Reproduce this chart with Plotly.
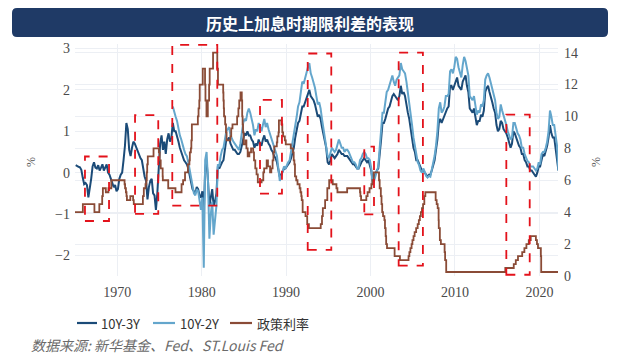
import plotly.graph_objects as go

# ---------------- data ----------------
# 10Y-3Y spread, six readings per year (bi-monthly), starting Jan 1965
SPREAD_10Y3Y = [
    0.18, 0.15, 0.14, 0.13, 0.07, -0.12,   # 1965
    -0.28, -0.25, -0.30, -0.60, -0.40, -0.15,  # 1966
    0.15, 0.25, 0.12, 0.10, 0.18, 0.05,    # 1967
    0.12, 0.20, 0.05, 0.15, 0.20, 0.00,    # 1968
    -0.05, -0.15, -0.25, -0.35, -0.30, -0.45,  # 1969
    -0.40, -0.15, -0.05, 0.00, 0.30, 0.65,  # 1970
    1.20, 1.05, 0.55, 0.40, 0.60, 0.75,    # 1971
    0.70, 0.60, 0.50, 0.45, 0.35, 0.30,    # 1972
    0.05, -0.10, -0.20, -0.65, -0.35, -0.20,  # 1973
    -0.15, -0.50, -0.55, -0.90, -0.50, 0.10,  # 1974
    0.70, 0.90, 0.55, 0.75, 0.45, 0.80,    # 1975
    0.95, 0.75, 0.85, 1.20, 1.00, 1.00,    # 1976
    0.90, 0.75, 0.60, 0.50, 0.35, 0.30,    # 1977
    0.25, 0.20, 0.10, -0.05, -0.20, -0.40,  # 1978
    -0.45, -0.50, -0.35, -0.40, -0.55, -0.60,  # 1979
    -0.45, -1.00, 0.10, 0.30, -0.20, -0.80,  # 1980
    -0.60, -0.40, -0.80, -0.70, -0.50, 0.15,  # 1981
    0.10, 0.20, 0.25, 0.30, 0.60, 0.80,    # 1982
    0.80, 0.85, 0.70, 0.60, 0.55, 0.55,    # 1983
    0.50, 0.45, 0.45, 0.50, 0.65, 0.85,    # 1984
    0.95, 0.90, 1.00, 0.90, 0.90, 0.80,    # 1985
    0.75, 0.60, 0.70, 0.65, 0.80, 0.70,    # 1986
    0.65, 0.80, 0.90, 0.75, 0.80, 0.70,    # 1987
    0.65, 0.55, 0.50, 0.40, 0.35, 0.25,    # 1988
    0.05, -0.10, -0.05, 0.05, 0.10, 0.10,  # 1989
    0.15, 0.20, 0.25, 0.35, 0.50, 0.60,    # 1990
    0.85, 1.00, 1.20, 1.25, 1.45, 1.60,    # 1991
    1.60, 1.70, 1.85, 1.95, 2.00, 1.85,    # 1992
    1.80, 1.75, 1.65, 1.50, 1.35, 1.40,    # 1993
    1.30, 1.10, 0.90, 0.75, 0.60, 0.25,    # 1994
    0.20, 0.30, 0.45, 0.40, 0.35, 0.40,    # 1995
    0.45, 0.55, 0.50, 0.45, 0.45, 0.40,    # 1996
    0.40, 0.40, 0.35, 0.30, 0.25, 0.20,    # 1997
    0.20, 0.15, 0.10, 0.10, 0.20, 0.25,    # 1998
    0.30, 0.35, 0.30, 0.25, 0.30, 0.20,    # 1999
    0.05, -0.20, -0.10, -0.05, 0.05, 0.10,  # 2000
    0.40, 0.80, 1.20, 1.20, 1.30, 1.45,    # 2001
    1.55, 1.60, 1.75, 1.85, 1.90, 1.85,    # 2002
    1.80, 1.75, 1.85, 2.10, 1.90, 1.95,    # 2003
    1.85, 1.60, 1.45, 1.30, 1.05, 0.85,    # 2004
    0.60, 0.50, 0.30, 0.30, 0.20, 0.10,    # 2005
    0.05, 0.05, 0.00, -0.05, -0.10, -0.05,  # 2006
    -0.05, 0.05, 0.15, 0.30, 0.55, 0.80,   # 2007
    1.20, 1.30, 1.20, 1.30, 1.35, 1.50,    # 2008
    1.55, 1.60, 2.10, 2.10, 2.00, 2.10,    # 2009
    2.20, 2.30, 2.10, 2.05, 2.00, 2.20,    # 2010
    2.30, 2.35, 2.10, 1.95, 1.55, 1.50,    # 2011
    1.45, 1.55, 1.30, 1.15, 1.25, 1.25,    # 2012
    1.40, 1.35, 1.50, 1.95, 2.05, 2.10,    # 2013
    1.95, 1.85, 1.70, 1.55, 1.45, 1.15,    # 2014
    1.00, 1.05, 1.25, 1.20, 1.05, 1.00,    # 2015
    0.95, 0.85, 0.75, 0.60, 0.70, 1.00,    # 2016
    0.95, 0.85, 0.70, 0.65, 0.60, 0.45,    # 2017
    0.45, 0.30, 0.25, 0.15, 0.15, 0.05,    # 2018
    0.05, 0.00, -0.05, -0.10, 0.00, 0.15,  # 2019
    0.15, 0.35, 0.45, 0.40, 0.50, 0.65,    # 2020
    0.85, 1.15, 0.95, 0.85, 0.85, 0.55,    # 2021
    0.35, 0.05,                            # 2022
]
SPREAD_10Y3Y_START = (1965, 0)   # (year, bi-monthly slot)

# 10Y-2Y spread, six readings per year, starting mid 1976
SPREAD_10Y2Y = [
    1.60, 1.45, 1.35,                      # 1976 (H2)
    1.25, 1.05, 0.90, 0.80, 0.65, 0.55,    # 1977
    0.45, 0.40, 0.25, 0.05, -0.15, -0.35,  # 1978
    -0.50, -0.55, -0.40, -0.45, -0.75, -0.90,  # 1979
    -0.60, -2.30, 0.30, 0.50, -0.20, -1.60,  # 1980
    -1.00, -0.70, -1.50, -1.20, -0.80, 0.20,  # 1981
    0.15, 0.40, 0.55, 0.60, 0.80, 1.00,    # 1982
    1.05, 1.10, 0.90, 0.80, 0.75, 0.70,    # 1983
    0.65, 0.60, 0.55, 0.70, 0.95, 1.20,    # 1984
    1.30, 1.25, 1.45, 1.55, 1.45, 1.30,    # 1985
    1.15, 0.90, 1.05, 1.00, 1.20, 1.10,    # 1986
    1.00, 1.15, 1.30, 1.10, 1.20, 1.05,    # 1987
    0.95, 0.80, 0.75, 0.60, 0.50, 0.40,    # 1988
    0.10, -0.20, -0.10, 0.05, 0.15, 0.10,  # 1989
    0.20, 0.25, 0.30, 0.50, 0.70, 0.85,    # 1990
    1.15, 1.35, 1.60, 1.70, 1.95, 2.20,    # 1991
    2.15, 2.30, 2.45, 2.55, 2.65, 2.40,    # 1992
    2.30, 2.20, 2.05, 1.85, 1.65, 1.70,    # 1993
    1.55, 1.30, 1.10, 0.90, 0.70, 0.40,    # 1994
    0.35, 0.45, 0.60, 0.55, 0.50, 0.55,    # 1995
    0.65, 0.80, 0.70, 0.60, 0.60, 0.50,    # 1996
    0.55, 0.55, 0.50, 0.40, 0.35, 0.25,    # 1997
    0.25, 0.20, 0.10, 0.10, 0.30, 0.35,    # 1998
    0.45, 0.50, 0.45, 0.35, 0.35, 0.30,    # 1999
    0.10, -0.30, -0.20, -0.10, 0.05, 0.15,  # 2000
    0.60, 1.10, 1.45, 1.45, 1.75, 1.95,    # 2001
    2.00, 2.10, 2.25, 2.35, 2.20, 2.10,    # 2002
    2.25, 2.30, 2.35, 2.65, 2.50, 2.45,    # 2003
    2.40, 2.20, 1.95, 1.75, 1.45, 1.15,    # 2004
    0.85, 0.65, 0.35, 0.25, 0.18, 0.05,    # 2005
    0.00, 0.10, 0.02, -0.08, -0.12, -0.08,  # 2006
    -0.10, 0.05, 0.20, 0.40, 0.65, 1.00,   # 2007
    1.55, 1.70, 1.45, 1.50, 1.60, 1.85,    # 2008
    1.85, 1.90, 2.45, 2.50, 2.40, 2.55,    # 2009
    2.80, 2.75, 2.55, 2.45, 2.30, 2.60,    # 2010
    2.80, 2.70, 2.55, 2.35, 1.85, 1.80,    # 2011
    1.75, 1.85, 1.55, 1.40, 1.50, 1.45,    # 2012
    1.65, 1.60, 1.75, 2.25, 2.35, 2.40,    # 2013
    2.30, 2.15, 2.00, 1.85, 1.75, 1.45,    # 2014
    1.30, 1.35, 1.65, 1.50, 1.40, 1.25,    # 2015
    1.15, 1.00, 0.90, 0.80, 0.85, 1.20,    # 2016
    1.20, 1.05, 0.95, 0.90, 0.80, 0.60,    # 2017
    0.60, 0.45, 0.35, 0.28, 0.25, 0.15,    # 2018
    0.15, 0.15, 0.10, 0.05, 0.10, 0.25,    # 2019
    0.20, 0.45, 0.50, 0.50, 0.60, 0.75,    # 2020
    1.00, 1.50, 1.35, 1.15, 1.15, 0.85,    # 2021
    0.65, 0.05,                            # 2022
]
SPREAD_10Y2Y_START = (1976, 3)

# Policy rate (step changes): effective-from date (decimal year) and level, %
RATE_DATES = [
    1965.00, 1965.93, 1967.30, 1967.88, 1968.22, 1968.30, 1968.65, 1968.96, 1969.30,
    1970.87, 1970.93, 1971.03, 1971.10, 1971.15, 1971.55, 1971.88, 1971.96,
    1973.04, 1973.15, 1973.35, 1973.45, 1973.50, 1973.55, 1973.62, 1974.30,
    1974.93, 1975.03, 1975.15, 1975.38, 1975.40, 1976.04, 1976.90,
    1977.62, 1977.80, 1978.03, 1978.37, 1978.55, 1978.60, 1978.72, 1978.78, 1978.84,
    1979.55, 1979.63, 1979.72, 1979.77, 1980.13, 1980.40, 1980.45, 1980.57,
    1980.73, 1980.88, 1980.95, 1981.35, 1981.85, 1981.93,
    1982.55, 1982.58, 1982.62, 1982.65, 1982.78, 1982.88, 1982.95,
    1983.40, 1983.50, 1983.65, 1984.20, 1984.35, 1984.45, 1984.60,
    1984.75, 1984.80, 1984.85, 1984.90, 1984.97, 1985.20, 1985.30, 1985.45,
    1985.65, 1985.85, 1986.10, 1986.20, 1986.35, 1986.50, 1986.65,
    1987.10, 1987.30, 1987.40, 1987.70, 1987.85, 1988.10, 1988.25, 1988.40,
    1988.50, 1988.60, 1988.90, 1988.96, 1989.10, 1989.15, 1989.45, 1989.55,
    1989.65, 1989.85, 1989.96, 1990.55, 1990.80, 1990.90, 1990.98,
    1991.05, 1991.20, 1991.35, 1991.60, 1991.70, 1991.80, 1991.85, 1991.96,
    1992.30, 1992.50, 1992.70, 1994.10, 1994.25, 1994.35, 1994.62, 1994.88,
    1995.10, 1995.52, 1995.96, 1996.08, 1997.23, 1998.75, 1998.80, 1998.88,
    1999.50, 1999.65, 1999.88, 2000.10, 2000.22, 2000.38,
    2001.00, 2001.08, 2001.22, 2001.30, 2001.38, 2001.48, 2001.64, 2001.71,
    2001.79, 2001.85, 2001.95, 2002.85, 2003.48,
    2004.50, 2004.60, 2004.72, 2004.86, 2004.96, 2005.09, 2005.22, 2005.40,
    2005.58, 2005.72, 2005.84, 2005.96, 2006.09, 2006.22, 2006.37, 2006.49,
    2007.71, 2007.83, 2007.95, 2008.06, 2008.08, 2008.21, 2008.33, 2008.77,
    2008.83, 2008.96, 2015.96, 2016.96, 2017.20, 2017.46, 2017.96, 2018.22,
    2018.46, 2018.74, 2018.97, 2019.58, 2019.71, 2019.83, 2020.17, 2020.21,
    2022.20,
]
RATE_VALUES = [
    4.00, 4.50, 4.00, 4.50, 5.00, 5.50, 5.25, 5.50, 6.00,
    5.75, 5.50, 5.25, 5.00, 4.75, 5.00, 4.75, 4.50,
    5.00, 5.50, 5.75, 6.00, 6.50, 7.00, 7.50, 8.00,
    7.75, 7.25, 6.75, 6.25, 6.00, 5.50, 5.25,
    5.75, 6.00, 6.50, 7.00, 7.25, 7.75, 8.00, 8.50, 9.50,
    10.00, 10.50, 11.00, 12.00, 13.00, 12.00, 11.00, 10.00,
    11.00, 12.00, 13.00, 14.00, 13.00, 12.00,
    11.50, 11.00, 10.50, 10.00, 9.50, 9.00, 8.50,
    8.75, 9.25, 9.50, 10.00, 10.50, 11.00, 11.50,
    11.00, 10.00, 9.50, 9.00, 8.25, 8.50, 8.00, 7.50,
    7.75, 8.00, 7.75, 7.25, 6.75, 6.375, 5.875,
    6.00, 6.50, 6.75, 7.25, 6.875, 6.50, 6.75, 7.25,
    7.75, 8.125, 8.375, 8.75, 9.00, 9.75, 9.50, 9.00,
    8.75, 8.50, 8.25, 8.00, 7.75, 7.25, 7.00,
    6.25, 6.00, 5.75, 5.50, 5.25, 5.00, 4.75, 4.00,
    3.75, 3.25, 3.00, 3.25, 3.75, 4.25, 4.75, 5.50,
    6.00, 5.75, 5.50, 5.25, 5.50, 5.25, 5.00, 4.75,
    5.00, 5.25, 5.50, 5.75, 6.00, 6.50,
    6.00, 5.50, 5.00, 4.50, 4.00, 3.75, 3.50, 3.00,
    2.50, 2.00, 1.75, 1.25, 1.00,
    1.25, 1.50, 1.75, 2.00, 2.25, 2.50, 2.75, 3.00,
    3.25, 3.50, 3.75, 4.00, 4.25, 4.50, 5.00, 5.25,
    4.75, 4.50, 4.25, 3.50, 3.00, 2.25, 2.00, 1.50,
    1.00, 0.25, 0.50, 0.75, 1.00, 1.25, 1.50, 1.75,
    2.00, 2.25, 2.50, 2.25, 2.00, 1.75, 1.25, 0.25,
    0.25,
]

# Highlighted rate-hike windows: (start, end) in years, (low, high) on left axis
HIKE_X = [(1966.18, 1969.03), (1972.11, 1974.86), (1976.52, 1981.85),
          (1986.91, 1989.51), (1992.56, 1995.35), (1999.26, 2000.41),
          (2003.33, 2006.20), (2016.08, 2018.85)]
HIKE_Y = [(-1.17, 0.39), (-1.00, 1.39), (-0.80, 3.09), (-0.51, 1.76),
          (-1.87, 2.88), (-1.01, 0.63), (-2.25, 2.90), (-2.47, 1.40)]

X_TICKS = [1970, 1980, 1990, 2000, 2010, 2020]
LEFT_TICKS = [-2, -1, 0, 1, 2, 3]
RIGHT_TICKS = [0, 2, 4, 6, 8, 10, 12, 14]

NAMES = ["10Y-3Y", "10Y-2Y", "政策利率"]
TITLE = "历史上加息时期限利差的表现"
SOURCE = "数据来源: 新华基金、Fed、ST.Louis Fed"

# ---------------- styling ----------------
C_DARK = "#1B4B78"
C_LIGHT = "#64A6CC"
C_BROWN = "#8A4B36"
C_RED = "#E3121B"
C_NAVY = "#1F3A66"
GRID = "#ECEFF4"

W, H = 640, 358
L, R, T, B = 75, 558, 44, 276


def slot_x(start, n):
    y0, k0 = start
    return [y0 + (k0 + i + 0.5) / 6.0 for i in range(n)]


def px(x):
    return (x - L) / (R - L)


def py(y):
    return (B - y) / (B - T)


fig = go.Figure()
fig.add_trace(go.Scatter(x=slot_x(SPREAD_10Y3Y_START, len(SPREAD_10Y3Y)), y=SPREAD_10Y3Y,
                         mode="lines", name=NAMES[0], line=dict(color=C_DARK, width=2)))
fig.add_trace(go.Scatter(x=slot_x(SPREAD_10Y2Y_START, len(SPREAD_10Y2Y)), y=SPREAD_10Y2Y,
                         mode="lines", name=NAMES[1], line=dict(color=C_LIGHT, width=2)))
fig.add_trace(go.Scatter(x=RATE_DATES, y=RATE_VALUES, mode="lines", name=NAMES[2],
                         line=dict(color=C_BROWN, width=1.8, shape="hv"), yaxis="y2"))

shapes = []
for (x0, x1), (y0, y1) in zip(HIKE_X, HIKE_Y):
    shapes.append(dict(type="rect", xref="x", yref="y", x0=x0, x1=x1, y0=y0, y1=y1,
                       line=dict(color=C_RED, width=1.8, dash="dash"), layer="above"))

# title banner with rounded corners
bx0, bx1, by0, by1, r = 12, 608, 8, 37, 5
pts = ("M{a},{b} L{c},{b} Q{d},{b} {d},{e} L{d},{f} Q{d},{g} {c},{g} "
       "L{a},{g} Q{h},{g} {h},{f} L{h},{e} Q{h},{b} {a},{b} Z").format(
    a=px(bx0 + r), b=py(by0), c=px(bx1 - r), d=px(bx1), e=py(by0 + r),
    f=py(by1 - r), g=py(by1), h=px(bx0))
shapes.append(dict(type="path", xref="paper", yref="paper", path=pts,
                   fillcolor=C_NAVY, line=dict(width=0)))

# legend samples
leg = [(77, 97, 99, C_DARK), (153, 175, 178, C_LIGHT), (230, 252, 255, C_BROWN)]
ly = 323
annotations = []
for (x0, x1, tx, col), name in zip(leg, NAMES):
    shapes.append(dict(type="line", xref="paper", yref="paper", x0=px(x0), x1=px(x1),
                       y0=py(ly), y1=py(ly), line=dict(color=col, width=2.2)))
    annotations.append(dict(xref="paper", yref="paper", x=px(tx), y=py(ly), text=name,
                            showarrow=False, xanchor="left", yanchor="middle",
                            font=dict(family="Noto Sans CJK SC, Noto Sans", size=13, color="#333333")))

annotations.append(dict(xref="paper", yref="paper", x=px(310), y=py(22.5), text="<b>" + TITLE + "</b>",
                        showarrow=False, xanchor="center", yanchor="middle",
                        font=dict(family="Noto Sans CJK SC", size=16, color="white")))
annotations.append(dict(xref="paper", yref="paper", x=px(29), y=py(345), text="<i>" + SOURCE + "</i>",
                        showarrow=False, xanchor="left", yanchor="middle",
                        font=dict(family="Noto Sans CJK SC", size=14, color="#6b6b6b")))
annotations.append(dict(xref="paper", yref="paper", x=px(31), y=py(162), text="%",
                        showarrow=False, textangle=-90, xanchor="center", yanchor="middle",
                        font=dict(family="Liberation Serif", size=12, color="#555555")))
annotations.append(dict(xref="paper", yref="paper", x=px(596), y=py(162), text="%",
                        showarrow=False, textangle=-90, xanchor="center", yanchor="middle",
                        font=dict(family="Liberation Serif", size=12, color="#555555")))

tickfont = dict(family="Liberation Serif, Times New Roman, serif", size=14, color="#4a4a4a")
fig.update_layout(
    width=W, height=H, autosize=False,
    margin=dict(l=L, r=W - R, t=T, b=H - B, pad=0),
    paper_bgcolor="white", plot_bgcolor="white",
    showlegend=False, hovermode=False,
    shapes=shapes, annotations=annotations,
    xaxis=dict(range=[1965.0, 2022.2], tickvals=X_TICKS, ticktext=[str(v) for v in X_TICKS],
               showgrid=True, gridcolor=GRID, gridwidth=1, zeroline=False, showline=False,
               ticks="", tickfont=tickfont, ticklabelstandoff=6),
    yaxis=dict(range=[-2.5, 3.11], tickvals=LEFT_TICKS, showgrid=True, gridcolor=GRID,
               zeroline=False, showline=False, ticks="", tickfont=tickfont, ticklabelstandoff=4),
    yaxis2=dict(range=[0, 14.54], tickvals=RIGHT_TICKS, overlaying="y", side="right",
                showgrid=True, gridcolor=GRID, zeroline=False, showline=False, ticks="",
                tickfont=tickfont, ticklabelstandoff=5),
)

fig.write_html("out.html", config={"displayModeBar": False},
               post_script="document.body.style.margin='0px';"
                           "document.body.style.overflow='hidden';")
